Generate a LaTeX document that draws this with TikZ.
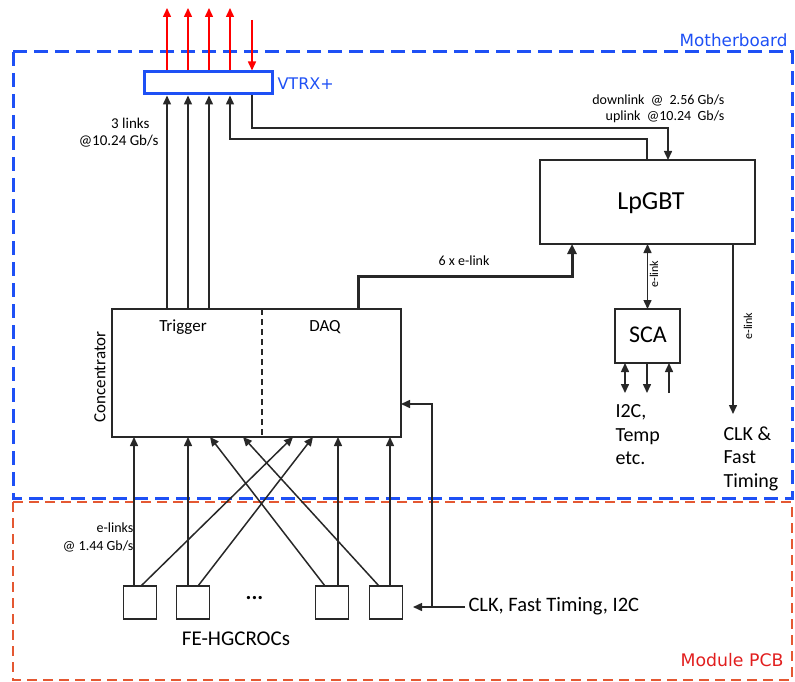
\documentclass[tikz,border=0pt]{standalone}
\usepackage{fontspec}
\setmainfont{Carlito}
\newfontfamily\dejavu{DejaVu Sans}
\usetikzlibrary{arrows.meta}
\definecolor{mbblue}{RGB}{30,80,245}
\definecolor{pcbred}{RGB}{228,88,50}
\definecolor{lblred}{RGB}{225,30,30}
\definecolor{ln}{RGB}{40,40,40}
\tikzset{
  box/.style={draw=ln,line width=1.5pt,fill=white,inner sep=0pt,outer sep=0pt},
  ln/.style={draw=ln,line width=1.5pt},
  arr/.style={ln,-{Triangle[length=9pt,width=8pt]}},
  darr/.style={ln,{Triangle[length=9pt,width=8pt]}-{Triangle[length=9pt,width=8pt]}},
  rarr/.style={draw=red,line width=1.5pt,-{Triangle[length=9pt,width=8pt]}},
  fbig/.style={font=\fontsize{26}{30}\selectfont},
  fmid/.style={font=\fontsize{20}{23.5}\selectfont},
  fsub/.style={font=\fontsize{17}{20}\selectfont},
  fsmall/.style={font=\fontsize{14}{18}\selectfont},
  ftiny/.style={font=\fontsize{12}{14}\selectfont},
}
\begin{document}
\begin{tikzpicture}[x=1pt,y=-1pt]
\useasboundingbox (0,0) rectangle (795,682);
% regions
\draw[pcbred,line width=2.5pt,dash pattern=on 10pt off 6pt] (13,502) rectangle (792,680);
\draw[mbblue,line width=3pt,dash pattern=on 14pt off 7pt] (13,52) rectangle (792,498);
\node[text=mbblue,anchor=east,font=\dejavu\fontsize{16.8}{18}\selectfont] (mblbl) at (791,40) {Motherboard};
\node[anchor=east,text=lblred,font=\dejavu\fontsize{17.3}{18}\selectfont] (pcblbl) at (787,660) {Module PCB};

% main boxes
\node[draw=mbblue,line width=3pt,fill=white,minimum width=128pt,minimum height=22pt,inner sep=0pt] (vtrx) at (208,83) {};
\node[anchor=west,text=mbblue,font=\dejavu\fontsize{16}{18}\selectfont] (vtrxlbl) at (274,84) {VTRX+};
\node[box,minimum width=215pt,minimum height=84pt] (lpgbt) at (647.5,202) {};
\node[fbig] (lpgbtlbl) at (651,203) {LpGBT};
\node[box,minimum width=289pt,minimum height=128pt] (conc) at (256.5,373) {};
\node[box,minimum width=65pt,minimum height=54pt] (sca) at (647.5,336) {};
\node[font=\fontsize{24}{26}\selectfont] (scalbl) at (648,335) {SCA};
\draw[ln,dashed,dash pattern=on 6pt off 4pt] (262,0 |- conc.north) -- (262,0 |- conc.south);
\node[fsub] (trig) at (183,327) {Trigger};
\node[fsub] (daq) at (325,327) {DAQ};
\node[fsub,rotate=90] (conclbl) at (100,377) {Concentrator};

% FE boxes
\foreach \n/\x in {1/140,2/193,3/332,4/386}{
  \node[box,minimum width=33pt,minimum height=33pt] (fe\n) at (\x,602.5) {};
}
\node[font=\fontsize{22}{24}\selectfont] (dots) at (254.5,598) {\textbf{...}};
\node[font=\fontsize{21}{24}\selectfont] (felbl) at (236,639) {FE-HGCROCs};

% red arrows at top
\foreach \x in {167,188,209,230}{
  \coordinate (rt\x) at (\x,8);
  \draw[rarr] (\x,0 |- vtrx.north) -- (rt\x);
}
\coordinate (rd) at (252,20);
\draw[rarr] (rd) -- (252,0 |- vtrx.north);

% concentrator to VTRX
\foreach \x in {167,188,209}{
  \draw[arr] (\x,0 |- conc.north) -- (\x,0 |- vtrx.south);
}
% downlink / uplink
\draw[arr] (252,0 |- vtrx.south) -- (252,128) -- (668,128) -- (668,0 |- lpgbt.north);
\draw[arr] (647,0 |- lpgbt.north) -- (647,139) -- (230,139) -- (230,0 |- vtrx.south);
\node[fsmall,anchor=east] (dl) at (728,100) {downlink\ \ @\ \ 2.56 Gb/s};
\node[fsmall,anchor=east] (ul) at (728,117) {uplink\ \ @10.24\ \ Gb/s};
\node[font=\fontsize{15}{18}\selectfont,anchor=east] (l3a) at (153,123) {3 links};
\node[font=\fontsize{15}{18}\selectfont,anchor=east] (l3b) at (162,141) {@10.24 Gb/s};

% 6 x e-link
\draw[ln,line width=3pt,-{Triangle[length=10pt,width=9pt]}] (358,0 |- conc.north) -- (358,276) -- (572,276) -- (572,0 |- lpgbt.south);
\node[fsmall] (six) at (464,261) {6 x e-link};

% LpGBT - SCA
\draw[darr] (lpgbt.south -| sca.north) -- (sca.north);
\node[ftiny,rotate=90] (el1) at (654,274) {e-link};
% SCA outputs
\coordinate (s1) at (625,393);
\coordinate (s2) at (647,393);
\coordinate (s3) at (669,393);
\draw[darr] (625,0 |- sca.south) -- (s1);
\draw[arr] (647,0 |- sca.south) -- (s2);
\draw[arr] (s3) -- (669,0 |- sca.south);
\node[fmid,anchor=north west,align=left] (i2c) at (612,401) {I2C,\\Temp\\etc.};

% LpGBT clock e-link
\coordinate (clkdn) at (733,414);
\draw[arr] (733,0 |- lpgbt.south) -- (clkdn);
\node[ftiny,rotate=90] (el2) at (748,326) {e-link};
\node[fmid,anchor=north west,align=left] (clkft) at (720,423) {CLK \&\\Fast\\Timing};

% FE to concentrator
\draw[arr] (134,0 |- fe1.north) -- (134,0 |- conc.south);
\draw[arr] (188,0 |- fe2.north) -- (188,0 |- conc.south);
\draw[arr] (338,0 |- fe3.north) -- (338,0 |- conc.south);
\draw[arr] (390,0 |- fe4.north) -- (390,0 |- conc.south);
\draw[arr] (141,0 |- fe1.north) -- (293,0 |- conc.south);
\draw[arr] (198,0 |- fe2.north) -- (313,0 |- conc.south);
\draw[arr] (325,0 |- fe3.north) -- (210,0 |- conc.south);
\draw[arr] (379,0 |- fe4.north) -- (243,0 |- conc.south);
\node[fsmall,anchor=east,align=right] (elk) at (137,537) {e-links\\@ 1.44 Gb/s};

% CLK, Fast Timing, I2C
\node[font=\fontsize{20.5}{24}\selectfont,anchor=west] (clk) at (465,606) {CLK, Fast Timing, I2C};
\coordinate (clkend) at (413,607);
\draw[arr] (clk.west |- clkend) -- (clkend);
\draw[arr] (432,607) -- (432,404) -- (conc.east |- 432,404);
\end{tikzpicture}
\end{document}
